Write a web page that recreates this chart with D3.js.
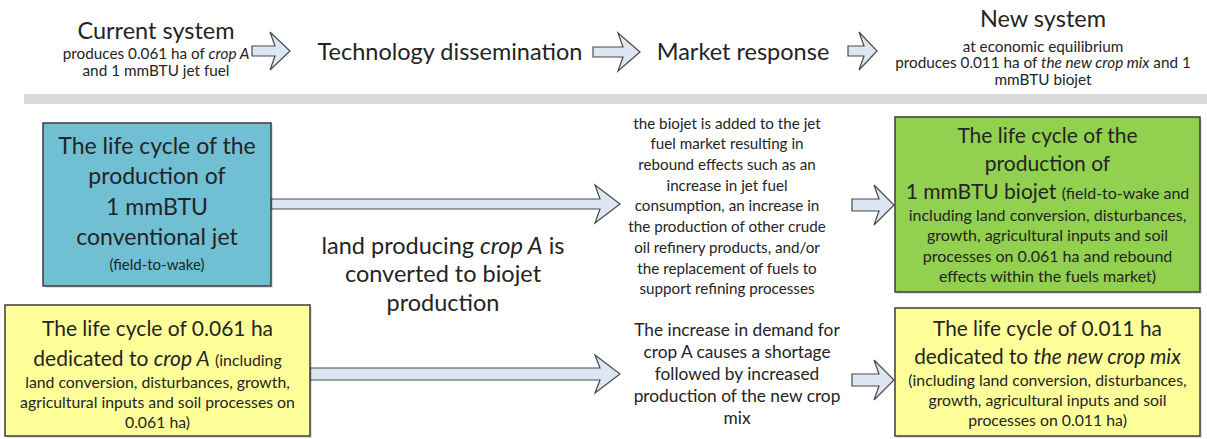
<!DOCTYPE html>
<html>
<head>
<meta charset="utf-8">
<script src="https://cdn.jsdelivr.net/npm/d3@7"></script>
<style>
  body { margin: 0; background: #fff; }
  svg { display: block; }
</style>
</head>
<body>
<script>
// Text content. _..._ = italic, [...] = small print
const currentSystem = ["Current system", "[produces 0.061 ha of _crop A_]", "[and 1 mmBTU jet fuel]"];
const newSystem = ["New system", "[at economic equilibrium]", "[produces 0.011 ha of _the new crop mix_ and 1]", "[mmBTU biojet]"];
const stages = ["Technology dissemination", "Market response"];

const conventionalJet = ["The life cycle of the", "production of", "1 mmBTU", "conventional jet", "[(field-to-wake)]"];
const biojet = ["The life cycle of the", "production of", "1 mmBTU biojet [(field-to-wake and]",
  "[including land conversion, disturbances,]", "[growth, agricultural inputs and soil]",
  "[processes on 0.061 ha and rebound]", "[effects within the fuels market)]"];
const cropA = ["The life cycle of 0.061 ha", "dedicated to _crop A_ [(including]",
  "[land conversion, disturbances, growth,]", "[agricultural inputs and soil processes on]", "[0.061 ha)]"];
const newCropMix = ["The life cycle of 0.011 ha", "dedicated to _the new crop mix_",
  "[(including land conversion, disturbances,]", "[growth, agricultural inputs and soil]", "[processes on 0.011 ha)]"];

const landNote = ["land producing _crop A_ is", "converted to biojet", "production"];
const fuelMarketNote = ["the biojet is added to the jet", "fuel market resulting in", "rebound effects such as an",
  "increase in jet fuel", "consumption, an increase in", "the production of other crude",
  "oil refinery products, and/or", "the replacement of fuels to", "support refining processes"];
const cropMarketNote = ["The increase in demand for", "crop A causes a shortage", "followed by increased",
  "production of the new crop", "mix"];

// Layout
const W = 1207, H = 439;
const font = "Lato, Carlito, 'Open Sans', sans-serif";
const ink = "#242424";

const svg = d3.select("body").append("svg")
  .attr("width", W).attr("height", H)
  .attr("xmlns", "http://www.w3.org/2000/svg")
  .style("font-family", font);

// parse markup into segments
function segments(str) {
  const out = [];
  let small = false, italic = false, buf = "";
  for (const ch of str) {
    if (ch === "[" || ch === "]" || ch === "_") {
      if (buf) out.push({ t: buf, small, italic });
      buf = "";
      if (ch === "[") small = true;
      else if (ch === "]") small = false;
      else italic = !italic;
    } else buf += ch;
  }
  if (buf) out.push({ t: buf, small, italic });
  return out;
}

// block of centred lines; spacing depends on big/small line types
function textBlock(g, lines, o) {
  let y = o.y, prevBig = null;
  lines.forEach((line, i) => {
    const segs = segments(line);
    const big = segs.some(s => !s.small);
    if (i > 0) y += big ? o.lhBig : (prevBig ? o.lhMix : o.lhSmall);
    prevBig = big;
    const t = g.append("text")
      .attr("x", o.x).attr("y", y).attr("dy", "0.35em")
      .attr("text-anchor", "middle")
      .attr("fill", ink)
      .style("white-space", "pre");
    t.selectAll("tspan").data(segs).join("tspan")
      .attr("font-size", d => d.small ? o.small : o.big)
      .attr("font-style", d => d.italic ? "italic" : null)
      .text(d => d.t);
  });
}

// block arrow with chevron-like head
const line = d3.line();
function arrowPath(a) {
  const hb = a.x1 - a.hl, d = 5;
  return line([
    [a.x0, a.cy - a.sh], [hb + d, a.cy - a.sh], [hb, a.cy - a.hh], [a.x1, a.cy],
    [hb, a.cy + a.hh], [hb + d, a.cy + a.sh], [a.x0, a.cy + a.sh]
  ]) + "Z";
}

// header
textBlock(svg, currentSystem, { x: 156, y: 33, big: 23.5, small: 15.3, lhBig: 20, lhMix: 20, lhSmall: 17 });
textBlock(svg, newSystem, { x: 1043, y: 21, big: 23.5, small: 15.3, lhBig: 20, lhMix: 25, lhSmall: 16.5 });
const stageX = d3.scalePoint().domain(stages).range([450, 743]);
svg.selectAll("text.stage").data(stages).join("text")
  .attr("class", "stage")
  .attr("x", d => stageX(d)).attr("y", 52).attr("dy", "0.35em")
  .attr("text-anchor", "middle").attr("font-size", 23.5).attr("fill", ink)
  .text(d => d);

svg.append("rect").attr("x", 24).attr("y", 94).attr("width", W - 24).attr("height", 10).attr("fill", "#d9d9d9");

const arrows = [
  { x0: 252, x1: 290, cy: 51, sh: 5, hh: 19, hl: 20 },
  { x0: 593, x1: 640, cy: 52, sh: 5, hh: 19, hl: 22 },
  { x0: 848, x1: 877, cy: 51, sh: 5, hh: 19, hl: 18 },
  { x0: 271, x1: 620, cy: 204, sh: 5, hh: 19, hl: 25 },
  { x0: 310, x1: 620, cy: 374, sh: 6, hh: 19, hl: 25 },
  { x0: 852, x1: 894, cy: 205, sh: 6, hh: 20, hl: 20 },
  { x0: 852, x1: 894, cy: 380, sh: 6, hh: 20, hl: 20 }
];
svg.selectAll("path.arrow").data(arrows).join("path")
  .attr("class", "arrow")
  .attr("d", arrowPath)
  .attr("fill", "#dde7f3").attr("stroke", "#4a4a4a").attr("stroke-width", 1.2)
  .attr("stroke-linejoin", "miter");

// boxes
const boxes = [
  { lines: conventionalJet, x: 43, y: 123, w: 228, h: 163, fill: "#70bfd3", big: 23, small: 15, first: 25, lhBig: 30.5, lhMix: 25, lhSmall: 21 },
  { lines: biojet, x: 895, y: 117, w: 305, h: 175, fill: "#92d050", big: 21, small: 16, first: 20, lhBig: 28, lhMix: 22, lhSmall: 20.5 },
  { lines: cropA, x: 5, y: 305, w: 305, h: 131, fill: "#ffff99", big: 21, small: 15.8, first: 25, lhBig: 30, lhMix: 22, lhSmall: 20 },
  { lines: newCropMix, x: 895, y: 308, w: 305, h: 128, fill: "#ffff99", big: 20.8, small: 15.8, first: 22, lhBig: 28, lhMix: 22, lhSmall: 20 }
];
const bg = svg.selectAll("g.box").data(boxes).join("g").attr("class", "box");
bg.append("rect")
  .attr("x", d => d.x + 2).attr("y", d => d.y + 2).attr("width", d => d.w).attr("height", d => d.h)
  .attr("fill", "#000").attr("opacity", 0.12);
bg.append("rect")
  .attr("x", d => d.x).attr("y", d => d.y).attr("width", d => d.w).attr("height", d => d.h)
  .attr("fill", d => d.fill).attr("stroke", "#3c3c3c").attr("stroke-width", 1.5);
bg.each(function (d) {
  textBlock(d3.select(this), d.lines, {
    x: d.x + d.w / 2, y: d.y + d.first, big: d.big, small: d.small,
    lhBig: d.lhBig, lhMix: d.lhMix, lhSmall: d.lhSmall
  });
});

// free-standing notes
textBlock(svg, landNote, { x: 443, y: 248, big: 23.5, small: 23.5, lhBig: 28.5 });
textBlock(svg, fuelMarketNote, { x: 727, y: 123, big: 15.2, small: 15.2, lhBig: 20.7 });
textBlock(svg, cropMarketNote, { x: 737, y: 330, big: 17.3, small: 17.3, lhBig: 22 });
</script>
</body>
</html>
